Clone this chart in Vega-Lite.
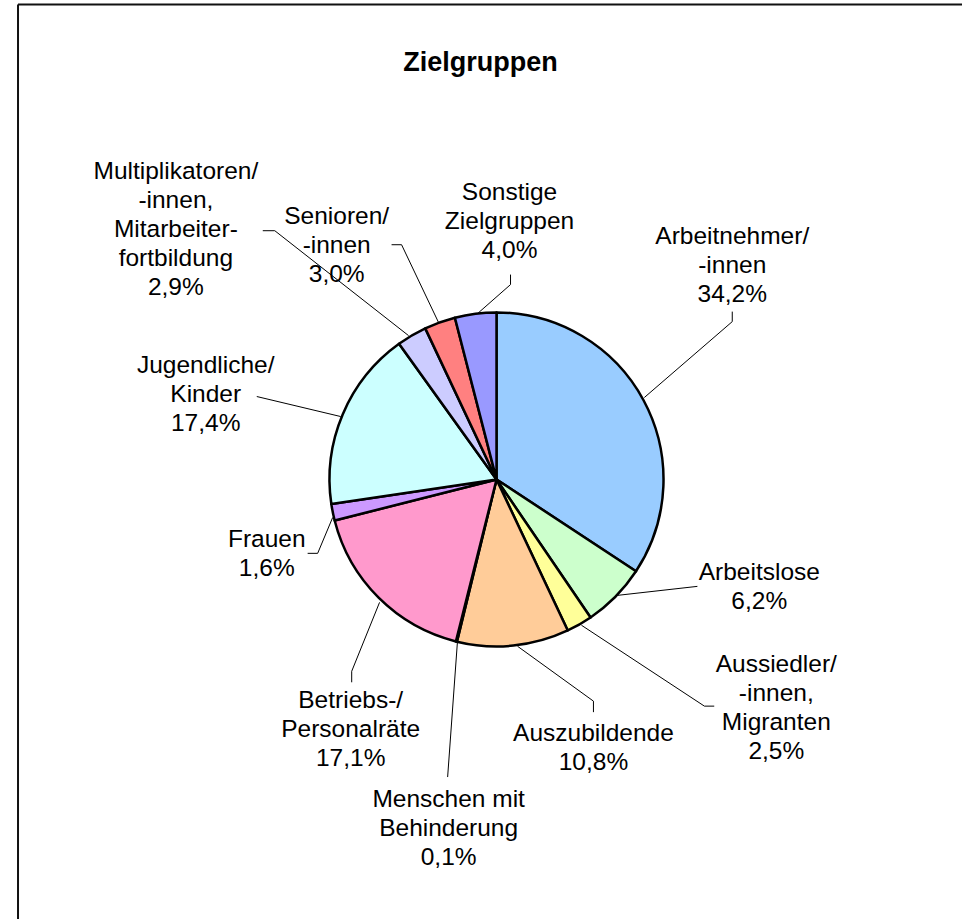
{
  "$schema": "https://vega.github.io/schema/vega-lite/v6.json",
  "width": 963,
  "height": 920,
  "padding": 0,
  "autosize": {"type": "fit", "contains": "padding"},
  "background": "white",
  "config": {"view": {"stroke": null}},
  "datasets": {
    "slices": [
      {"idx": 1, "name": "Arbeitnehmer/-innen", "pct": 34.2},
      {"idx": 2, "name": "Arbeitslose", "pct": 6.2},
      {"idx": 3, "name": "Aussiedler/-innen, Migranten", "pct": 2.5},
      {"idx": 4, "name": "Auszubildende", "pct": 10.8},
      {"idx": 5, "name": "Menschen mit Behinderung", "pct": 0.1},
      {"idx": 6, "name": "Betriebs-/Personalräte", "pct": 17.1},
      {"idx": 7, "name": "Frauen", "pct": 1.6},
      {"idx": 8, "name": "Jugendliche/Kinder", "pct": 17.4},
      {"idx": 9, "name": "Multiplikatoren/-innen, Mitarbeiterfortbildung", "pct": 2.9},
      {"idx": 10, "name": "Senioren/-innen", "pct": 3.0},
      {"idx": 11, "name": "Sonstige Zielgruppen", "pct": 4.0}
    ],
    "labels": [
      {"label": "Arbeitnehmer/\n-innen\n34,2%", "u": 141.3, "v": 145.5},
      {"label": "Arbeitslose\n6,2%", "u": 157.5, "v": -56.3},
      {"label": "Aussiedler/\n-innen,\nMigranten\n2,5%", "u": 167.7, "v": -111.4},
      {"label": "Auszubildende\n10,8%", "u": 58.1, "v": -152.7},
      {"label": "Menschen mit\nBehinderung\n0,1%", "u": -28.7, "v": -192.2},
      {"label": "Betriebs-/\nPersonalräte\n17,1%", "u": -87.4, "v": -132.9},
      {"label": "Frauen\n1,6%", "u": -137.7, "v": -36.5},
      {"label": "Jugendliche/\nKinder\n17,4%", "u": -174.3, "v": 67.7},
      {"label": "Multiplikatoren/\n-innen,\nMitarbeiter-\nfortbildung\n2,9%", "u": -192.2, "v": 184.4},
      {"label": "Senioren/\n-innen\n3,0%", "u": -95.8, "v": 157.5},
      {"label": "Sonstige\nZielgruppen\n4,0%", "u": 7.8, "v": 171.9}
    ],
    "leaders": [
      {"u": 141.3, "v": 100.6, "u2": 141.3, "v2": 94.6},
      {"u": 141.3, "v": 94.6, "u2": 88.6, "v2": 49.1},
      {"u": 120.4, "v": -64.1, "u2": 72.5, "v2": -69.5},
      {"u": 130.5, "v": -135.9, "u2": 124.6, "v2": -135.9},
      {"u": 124.6, "v": -135.9, "u2": 50.9, "v2": -87.4},
      {"u": 58.1, "v": -139.5, "u2": 58.1, "v2": -132.9},
      {"u": 58.1, "v": -132.9, "u2": 12.6, "v2": -100.0},
      {"u": -29.3, "v": -178.4, "u2": -23.4, "v2": -97.0},
      {"u": -86.8, "v": -121.6, "u2": -86.8, "v2": -115.0},
      {"u": -86.8, "v": -115.0, "u2": -70.1, "v2": -73.7},
      {"u": -113.2, "v": -44.3, "u2": -107.2, "v2": -44.3},
      {"u": -107.2, "v": -44.3, "u2": -98.2, "v2": -22.8},
      {"u": -143.7, "v": 49.7, "u2": -93.4, "v2": 37.7},
      {"u": -140.1, "v": 149.1, "u2": -132.9, "v2": 149.1},
      {"u": -132.9, "v": 149.1, "u2": -52.7, "v2": 86.2},
      {"u": -62.9, "v": 140.7, "u2": -56.9, "v2": 140.7},
      {"u": -56.9, "v": 140.7, "u2": -34.7, "v2": 94.0},
      {"u": 8.4, "v": 122.8, "u2": 8.4, "v2": 116.8},
      {"u": 8.4, "v": 116.8, "u2": -11.4, "v2": 99.4}
    ],
    "frame": [
      {"u": -286.8, "v": 284.7, "u2": -286.8, "v2": -263.5},
      {"u": -286.8, "v": 284.7, "u2": 279.0, "v2": 284.7}
    ],
    "heading": [
      {"t": "Zielgruppen", "u": -9.6, "v": 249.7}
    ]
  },
  "layer": [
    {
      "data": {"name": "frame"},
      "mark": {"type": "rule", "stroke": "#111111", "strokeWidth": 2},
      "encoding": {
        "x": {"field": "u", "type": "quantitative", "scale": {"domain": [-297.6, 279.0], "nice": false, "zero": false}, "axis": null},
        "y": {"field": "v", "type": "quantitative", "scale": {"domain": [-263.5, 287.4], "nice": false, "zero": false}, "axis": null},
        "x2": {"field": "u2"},
        "y2": {"field": "v2"}
      }
    },
    {
      "data": {"name": "leaders"},
      "mark": {"type": "rule", "stroke": "black", "strokeWidth": 1},
      "encoding": {
        "x": {"field": "u", "type": "quantitative", "scale": {"domain": [-297.6, 279.0], "nice": false, "zero": false}, "axis": null},
        "y": {"field": "v", "type": "quantitative", "scale": {"domain": [-263.5, 287.4], "nice": false, "zero": false}, "axis": null},
        "x2": {"field": "u2"},
        "y2": {"field": "v2"}
      }
    },
    {
      "data": {"name": "slices"},
      "mark": {"type": "arc", "radius": 167, "stroke": "black", "strokeWidth": 2.5, "strokeJoin": "round"},
      "encoding": {
        "theta": {"field": "pct", "type": "quantitative", "stack": true},
        "order": {"field": "idx", "type": "quantitative"},
        "x": {"datum": 0, "type": "quantitative", "scale": {"domain": [-297.6, 279.0], "nice": false, "zero": false}, "axis": null},
        "y": {"datum": 0, "type": "quantitative", "scale": {"domain": [-263.5, 287.4], "nice": false, "zero": false}, "axis": null},
        "color": {
          "field": "name",
          "type": "nominal",
          "legend": null,
          "scale": {
            "domain": ["Arbeitnehmer/-innen", "Arbeitslose", "Aussiedler/-innen, Migranten", "Auszubildende", "Menschen mit Behinderung", "Betriebs-/Personalräte", "Frauen", "Jugendliche/Kinder", "Multiplikatoren/-innen, Mitarbeiterfortbildung", "Senioren/-innen", "Sonstige Zielgruppen"],
            "range": ["#99CCFF", "#CCFFCC", "#FFFF99", "#FFCC99", "#C0C0C0", "#FF99CC", "#CC99FF", "#CCFFFF", "#CCCCFF", "#FF8080", "#9999FF"]
          }
        }
      }
    },
    {
      "data": {"name": "labels"},
      "mark": {"type": "text", "font": "Liberation Sans", "fontSize": 24.5, "lineHeight": 29, "lineBreak": "\n", "align": "center", "baseline": "middle", "color": "black"},
      "encoding": {
        "x": {"field": "u", "type": "quantitative", "scale": {"domain": [-297.6, 279.0], "nice": false, "zero": false}, "axis": null},
        "y": {"field": "v", "type": "quantitative", "scale": {"domain": [-263.5, 287.4], "nice": false, "zero": false}, "axis": null},
        "text": {"field": "label"}
      }
    },
    {
      "data": {"name": "heading"},
      "mark": {"type": "text", "font": "Liberation Sans", "fontSize": 27, "fontWeight": "bold", "align": "center", "baseline": "middle", "color": "black"},
      "encoding": {
        "x": {"field": "u", "type": "quantitative", "scale": {"domain": [-297.6, 279.0], "nice": false, "zero": false}, "axis": null},
        "y": {"field": "v", "type": "quantitative", "scale": {"domain": [-263.5, 287.4], "nice": false, "zero": false}, "axis": null},
        "text": {"field": "t"}
      }
    }
  ]
}
